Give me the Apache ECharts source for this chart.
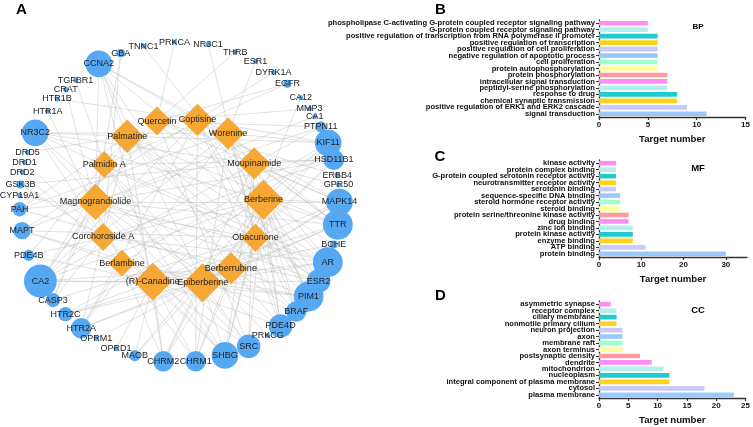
<!DOCTYPE html>
<html><head><meta charset="utf-8">
<script src="https://cdn.jsdelivr.net/npm/echarts@6/dist/echarts.min.js"></script>
<style>html,body{margin:0;padding:0;background:#fff}#c{width:753px;height:427px}</style>
</head><body><div id="c"></div>
<script>
// ---------- Panel A: compound–target network ----------
// compounds, in order a..n (letters are used in targetLinks)
const compounds = ['Quercetin','Coptisine','Worenine','Moupinamide','Berberine','Obacunone','Berberrubine','Epiberberine','(R)-Canadine','Berlambine','Corchoroside A','Magnograndiolide','Palmidin A','Palmatine'];
// angular position on the inner ring (degrees, clockwise from top)
const compoundAngle = [344.4,12.3,35.3,62.7,88.5,115.2,142.3,164,198.5,223.3,245.4,270,296.4,321.5];
const targets = ['CCNA2','GBA','TNNC1','PRKCA','NR3C1','THRB','ESR1','DYRK1A','EGFR','CA12','MMP3','CA1','PTPN11','KIF11','HSD11B1','ERBB4','GPR50','MAPK14','TTR','BCHE','AR','ESR2','PIM1','BRAF','PDE4D','PRKCG','SRC','SHBG','CHRM1','CHRM2','MAOB','OPRD1','OPRM1','HTR2A','HTR2C','CASP3','CA2','PDE4B','MAPT','PAH','CYP19A1','GSK3B','DRD2','DRD1','DRD5','NR3C2','HTR1A','HTR1B','CRAT','TGFBR1'];
// angular position on the outer ring (degrees, clockwise from top)
const targetAngle = [329.7,338.5,347,358.2,10.3,20.4,28.4,36,42.4,49.3,54.4,57.7,62,68.3,74.7,80.4,83.9,90,98.2,105.4,112.1,119.6,126.2,133.2,140.8,146.5,154.4,163.5,174.2,185.8,196.2,203.4,211.4,217.9,225.5,232.2,240.4,250.5,259.7,267.4,272.2,276.3,280.8,284.4,288.1,295.6,304.6,310.1,314.7,319.5];
// compounds linked to each target (a = Quercetin ... n = Palmatine)
const targetLinks = ['bceghinl','kl','e','a','f','a','c','b','am','g','a','l','adl','bceghinj','fkldmh','a','d','abdeghil','bcdeghinl','ei','cefhiklmn','aefhkln','bcdeghijn','bceghn','bcdegil','m','adehilm','fkldmhie','bcegij','ehinjd','eih','i','h','bcghnj','eghi','fklm','abcdeghiln','eni','bfhjl','cgnl','f','kd','j','i','n','cdefhkln','j','b','k','m'];

// ---------- Panels B, C, D: GO enrichment ----------
const bpCats = ['phospholipase C-activating G-protein coupled receptor signaling pathway','G-protein coupled receptor signaling pathway','positive regulation of transcription from RNA polymerase II promoter','positive regulation of transcription','positive regulation of cell proliferation','negative regulation of apoptotic process','cell proliferation','protein autophosphorylation','protein phosphorylation','intracellular signal transduction','peptidyl-serine phosphorylation','response to drug','chemical synaptic transmission','positive regulation of ERK1 and ERK2 cascade','signal transduction'];
const bpVals = [5,5,6,6,6,6,6,6,7,7,7,8,8,9,11];
const mfCats = ['kinase activity','protein complex binding','G-protein coupled serotonin receptor activity','neurotransmitter receptor activity','serotonin binding','sequence-specific DNA binding','steroid hormone receptor activity','steroid binding','protein serine/threonine kinase activity','drug binding','zinc ion binding','protein kinase activity','enzyme binding','ATP binding','protein binding'];
const mfVals = [4,4,4,4,4,5,5,5,7,7,8,8,8,11,30];
const ccCats = ['asymmetric synapse','receptor complex','ciliary membrane','nonmotile primary cilium','neuron projection','axon','membrane raft','axon terminus','postsynaptic density','dendrite','mitochondrion','nucleoplasm','integral component of plasma membrane','cytosol','plasma membrane'];
const ccVals = [2,3,3,3,4,4,4,4,7,9,11,12,12,18,23];
const bpTicks = [0,5,10,15];
const mfTicks = [0,10,20,30];
const ccTicks = [0,5,10,15,20,25];

// ---------- build ----------
const FONT = 'Liberation Sans, Arial, Helvetica, sans-serif';
const palette = ['#9cc9fb','#cacaf8','#ffd31c','#1fcccb','#b2efee','#ff8df6','#ff9b9b','#ffff9c','#9dffca'];
const R_T = 160, R_C = 84;

const links = [];
const cDeg = compounds.map(() => 0);
targetLinks.forEach((s, ti) => {
  s.split('').forEach(ch => {
    const ci = ch.charCodeAt(0) - 97;
    cDeg[ci]++;
    links.push({ source: compounds[ci], target: targets[ti] });
  });
});
const nodes = [];
targets.forEach((n, i) => {
  const deg = targetLinks[i].length;
  nodes.push({ name: n, value: [R_T, targetAngle[i]], symbol: 'circle',
    symbolSize: 5 + (deg - 1) * 3.1, itemStyle: { color: '#56a8f3' } });
});
compounds.forEach((n, i) => {
  nodes.push({ name: n, value: [R_C, compoundAngle[i]], symbol: 'diamond',
    symbolSize: 18 + cDeg[i] * 1.1, itemStyle: { color: '#f7a834' } });
});

function barColor(p) { return palette[(14 - p.dataIndex) % 9]; }

const panels = [
  { cats: bpCats, vals: bpVals, max: 15, ticks: bpTicks, top: 20, bottom: 310 },
  { cats: mfCats, vals: mfVals, max: 35, ticks: mfTicks, top: 160, bottom: 170 },
  { cats: ccCats, vals: ccVals, max: 25, ticks: ccTicks, top: 301, bottom: 29 }
];

const grid = [], xAxis = [], yAxis = [], series = [];
panels.forEach((p, i) => {
  grid.push({ left: 599, right: 6, top: p.top, bottom: p.bottom, containLabel: false });
  xAxis.push({ type: 'value', gridIndex: i, min: 0, max: p.max,
    splitLine: { show: false },
    axisLine: { show: true, lineStyle: { color: '#333', width: 1.3 } },
    axisTick: { show: true, length: 3, lineStyle: { color: '#333', width: 1.2 }, customValues: p.ticks },
    axisLabel: { fontSize: 8, fontWeight: 'bold', color: '#111', margin: 4, fontFamily: FONT, customValues: p.ticks },
    name: 'Target number', nameLocation: 'middle', nameGap: 17,
    nameTextStyle: { fontSize: 9.6, fontWeight: 'bold', color: '#111', fontFamily: FONT } });
  yAxis.push({ type: 'category', gridIndex: i, data: p.cats, inverse: true,
    axisLine: { show: true, lineStyle: { color: '#333', width: 1.3 } },
    axisTick: { show: true, length: 3, alignWithLabel: true, lineStyle: { color: '#333', width: 1 } },
    axisLabel: { interval: 0, fontSize: 7.6, fontWeight: 'bold', color: '#111', margin: 4, fontFamily: FONT, lineHeight: 8 } });
  series.push({ type: 'bar', xAxisIndex: i, yAxisIndex: i, data: p.vals,
    barCategoryGap: '28%', itemStyle: { color: barColor }, silent: true });
});

series.push({
  type: 'graph', coordinateSystem: 'polar', polarIndex: 0,
  data: nodes, links: links, silent: true,
  label: { show: true, position: 'inside', fontSize: 9, color: '#222', fontFamily: FONT },
  lineStyle: { color: '#bcbcbc', width: 1, opacity: 0.45, curveness: 0 },
  emphasis: { disabled: true }
});

function txt(x, y, t, size) {
  return { type: 'text', x: x, y: y, style: { text: t, fontSize: size, fontWeight: 'bold', fill: '#000',
    fontFamily: FONT, align: 'center', verticalAlign: 'middle' } };
}

const chart = echarts.init(document.getElementById('c'), null, { renderer: 'canvas' });
chart.setOption({
  animation: false,
  backgroundColor: '#fff',
  polar: { center: [179.5, 202], radius: R_T },
  angleAxis: { type: 'value', min: 0, max: 360, startAngle: 90, clockwise: true, show: false },
  radiusAxis: { type: 'value', min: 0, max: R_T, show: false },
  grid, xAxis, yAxis, series,
  graphic: [
    txt(21.5, 10, 'A', 15), txt(440.5, 10, 'B', 15), txt(440, 157, 'C', 15), txt(440.5, 296, 'D', 15),
    txt(698, 27, 'BP', 8), txt(698, 168, 'MF', 9.5), txt(698, 310, 'CC', 9.5)
  ]
});
</script></body></html>
